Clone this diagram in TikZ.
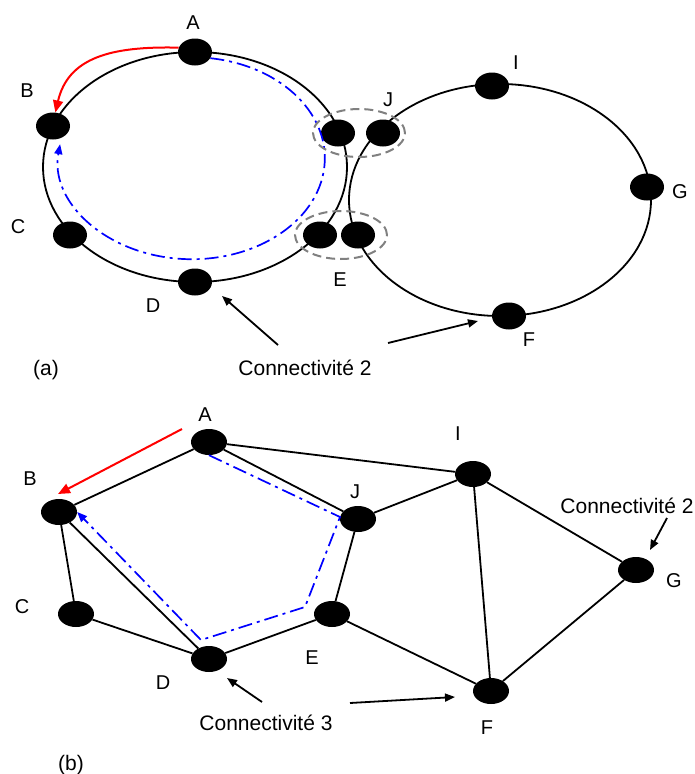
\documentclass[tikz,border=0pt]{standalone}
\usepackage{fontspec}
\setmainfont{Liberation Sans}
\usetikzlibrary{shapes.geometric,arrows.meta}
\begin{document}
\begin{tikzpicture}[x=1pt,y=1pt,
  dot/.style={ellipse,fill=black,inner sep=0pt,minimum width=34pt,minimum height=27pt},
  dotb/.style={ellipse,fill=black,inner sep=0pt,minimum width=36pt,minimum height=26pt},
  lbl/.style={font=\fontsize{20}{24}\selectfont,inner sep=0pt},
  captext/.style={font=\fontsize{21}{25}\selectfont,inner sep=0pt,anchor=base},
  ring/.style={line width=1.8pt},
  edge/.style={line width=1.8pt},
  grayring/.style={draw=gray,line width=2pt,dash pattern=on 9pt off 5pt},
  redarrow/.style={draw=red,line width=2pt,-{Triangle[length=12pt,width=10pt]}},
  bluepath/.style={draw=blue,line width=1.7pt,dash pattern=on 14pt off 5pt on 3pt off 5pt,-{Triangle[length=10pt,width=8pt]}},
  pointer/.style={line width=1.8pt,-{Triangle[length=10pt,width=8pt]}}]
\useasboundingbox (0,0) rectangle (695,-774);

% ---------------- (a) ----------------
\draw[ring] (195,-167) ellipse [x radius=152, y radius=115];
\draw[ring] (500,-200) ellipse [x radius=151, y radius=116];

\node[dot] (aA) at (195,-52) {};
\node[dot] (aB) at (53,-126) {};
\node[dot] (aC) at (70,-235) {};
\node[dot] (aD) at (195,-282) {};
\node[dot] (aE1) at (320,-235) {};
\node[dot] (aE2) at (358,-235) {};
\node[dot] (aJ1) at (338,-133) {};
\node[dot] (aJ2) at (383,-133) {};
\node[dot] (aI) at (492,-86) {};
\node[dot] (aG) at (647,-187) {};
\node[dot] (aF) at (509,-316) {};

\draw[bluepath] (aA.-22) arc[start angle=82, end angle=-188, x radius=133, y radius=101];
\draw[redarrow] (aA.165) .. controls (110,-46) and (68,-58) .. (aB.80);

\draw[grayring] (359,-133) ellipse [x radius=46, y radius=24];
\draw[grayring] (341,-235) ellipse [x radius=46, y radius=24];

\node[lbl] (laA) at (193,-23) {A};
\node[lbl] (laB) at (27,-91) {B};
\node[lbl] (laC) at (18,-227) {C};
\node[lbl] (laD) at (153,-306) {D};
\node[lbl] (laE) at (340,-280) {E};
\node[lbl] (laJ) at (388,-100) {J};
\node[lbl] (laI) at (516,-63) {I};
\node[lbl] (laG) at (680,-192) {G};
\node[lbl] (laF) at (529,-340) {F};

\node[captext] (ca) at (305,-375) {Connectivité 2};
\node[captext] (lba) at (46,-375) {(a)};
\coordinate (ca1) at (278,-345);
\coordinate (ca1t) at (222,-296);
\coordinate (ca2) at (388,-343);
\coordinate (ca2t) at (478,-321);
\draw[pointer] (ca1) -- (ca1t);
\draw[pointer] (ca2) -- (ca2t);

% ---------------- (b) ----------------
\node[dotb] (bA) at (209,-442) {};
\node[dotb] (bB) at (59,-512) {};
\node[dotb] (bC) at (76,-614) {};
\node[dotb] (bD) at (209,-659) {};
\node[dotb] (bE) at (332,-614) {};
\node[dotb] (bJ) at (358,-519) {};
\node[dotb] (bI) at (473,-474) {};
\node[dotb] (bG) at (636,-570) {};
\node[dotb] (bF) at (491,-691) {};

\draw[edge] (bA) -- (bB);
\draw[edge] (bA) -- (bJ);
\draw[edge] (bA) -- (bI);
\draw[edge] (bB) -- (bC);
\draw[edge] (bB) -- (bD);
\draw[edge] (bC) -- (bD);
\draw[edge] (bD) -- (bE);
\draw[edge] (bE) -- (bJ);
\draw[edge] (bJ) -- (bI);
\draw[edge] (bE) -- (bF);
\draw[edge] (bI) -- (bF);
\draw[edge] (bI) -- (bG);
\draw[edge] (bG) -- (bF);

\coordinate (bp1) at (340,-517);
\coordinate (bp2) at (305,-607);
\coordinate (bp3) at (201,-640);
\draw[bluepath] (bA.south) -- (bp1) -- (bp2) -- (bp3) -- (bB.east);

\coordinate (rb1) at (182,-429);
\coordinate (rb2) at (58,-494);
\draw[redarrow] (rb1) -- (rb2);

\node[lbl] (lbA) at (205,-415) {A};
\node[lbl] (lbB) at (30,-479) {B};
\node[lbl] (lbC) at (22,-607) {C};
\node[lbl] (lbD) at (163,-683) {D};
\node[lbl] (lbE) at (312,-658) {E};
\node[lbl] (lbJ) at (355,-492) {J};
\node[lbl] (lbI) at (458,-434) {I};
\node[lbl] (lbG) at (674,-581) {G};
\node[lbl] (lbF) at (487,-728) {F};

\node[captext] (cb) at (266,-730) {Connectivité 3};
\node[captext] (cg) at (627,-513) {Connectivité 2};
\node[captext] (lbb) at (71,-770) {(b)};
\coordinate (cb1) at (262,-702);
\coordinate (cb1t) at (227,-678);
\coordinate (cb2) at (350,-703);
\coordinate (cb2t) at (455,-697);
\coordinate (cg1) at (667,-518);
\coordinate (cg1t) at (650,-550);
\draw[pointer] (cb1) -- (cb1t);
\draw[pointer] (cb2) -- (cb2t);
\draw[pointer] (cg1) -- (cg1t);
\end{tikzpicture}
\end{document}
